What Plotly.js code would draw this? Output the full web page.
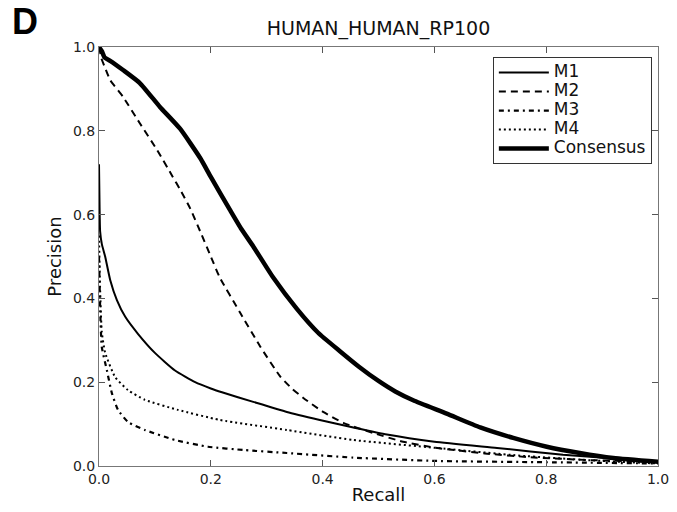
<!DOCTYPE html>
<html>
<head>
<meta charset="utf-8">
<script src="https://cdn.plot.ly/plotly-3.0.1.min.js"></script>
<style>html,body{margin:0;padding:0;background:#fff;}#chart{width:677px;height:512px;}</style>
</head>
<body>
<div id="chart"></div>
<script>
const seriesNames = ["M1", "M2", "M3", "M4", "Consensus"];

const m1X = [0, 0.001, 0.002, 0.005, 0.011, 0.02, 0.032, 0.047, 0.07, 0.1, 0.136, 0.172, 0.2, 0.22, 0.276, 0.336, 0.395, 0.455, 0.515, 0.6, 0.712, 0.83, 1.0];
const m1Y = [0.72, 0.62, 0.56, 0.53, 0.5, 0.444, 0.396, 0.356, 0.315, 0.27, 0.228, 0.2, 0.185, 0.176, 0.153, 0.129, 0.11, 0.092, 0.075, 0.058, 0.043, 0.027, 0.01];

const m2X = [0, 0.005, 0.011, 0.02, 0.043, 0.073, 0.104, 0.132, 0.145, 0.163, 0.181, 0.2, 0.216, 0.252, 0.288, 0.324, 0.345, 0.365, 0.401, 0.437, 0.49, 0.544, 0.605, 0.69, 0.771, 0.88, 1.0];
const m2Y = [1.0, 0.97, 0.95, 0.921, 0.881, 0.818, 0.754, 0.69, 0.66, 0.615, 0.56, 0.5, 0.45, 0.367, 0.286, 0.214, 0.185, 0.163, 0.129, 0.103, 0.079, 0.058, 0.043, 0.03, 0.021, 0.014, 0.01];

const m3X = [0, 0.002, 0.005, 0.014, 0.023, 0.034, 0.052, 0.082, 0.136, 0.195, 0.26, 0.336, 0.455, 0.605, 0.8, 1.0];
const m3Y = [0.5, 0.38, 0.284, 0.229, 0.174, 0.134, 0.105, 0.086, 0.062, 0.046, 0.038, 0.031, 0.02, 0.012, 0.009, 0.006];

const m4X = [0, 0.002, 0.005, 0.011, 0.029, 0.052, 0.082, 0.141, 0.216, 0.336, 0.455, 0.605, 0.75, 0.9, 1.0];
const m4Y = [0.55, 0.42, 0.32, 0.27, 0.212, 0.181, 0.158, 0.134, 0.11, 0.086, 0.062, 0.043, 0.025, 0.012, 0.006];

const consX = [0, 0.005, 0.01, 0.02, 0.043, 0.073, 0.109, 0.145, 0.181, 0.2, 0.234, 0.255, 0.276, 0.311, 0.354, 0.392, 0.431, 0.465, 0.5, 0.53, 0.562, 0.622, 0.682, 0.741, 0.801, 0.86, 0.92, 1.0];
const consY = [1.0, 0.99, 0.975, 0.967, 0.945, 0.914, 0.857, 0.805, 0.735, 0.69, 0.612, 0.565, 0.524, 0.451, 0.375, 0.318, 0.274, 0.237, 0.203, 0.178, 0.157, 0.125, 0.092, 0.067, 0.046, 0.031, 0.019, 0.01];

const tickVals = [0, 0.2, 0.4, 0.6, 0.8, 1.0];
const tickText = ["0.0", "0.2", "0.4", "0.6", "0.8", "1.0"];

const xs = [m1X, m2X, m3X, m4X, consX];
const ys = [m1Y, m2Y, m3Y, m4Y, consY];
const dashes = ["solid", "7px,5px", "5px,4px,2px,4px", "2px,3px", "solid"];
const widths = [2, 2, 2.2, 2, 4.5];

const traces = seriesNames.map((n, i) => ({
  type: "scatter", mode: "lines",
  name: '<span style="font-size:17px">' + n + '</span>',
  x: xs[i], y: ys[i],
  line: {color: "#000", width: widths[i], dash: dashes[i], shape: "spline", smoothing: 0.5}
}));

const axisCommon = {
  range: [0, 1], tickvals: tickVals, ticktext: tickText,
  ticks: "inside", ticklen: 6, tickwidth: 1, tickcolor: "#555",
  showline: true, linecolor: "#777", linewidth: 1, mirror: "ticks",
  showgrid: false, zeroline: false,
  tickfont: {family: "DejaVu Sans", size: 14, color: "#222"}
};

const layout = {
  width: 677, height: 512,
  margin: {l: 99, r: 19, t: 47, b: 46},
  paper_bgcolor: "#fff", plot_bgcolor: "#fff",
  font: {family: "DejaVu Sans", color: "#111"},
  title: {text: "HUMAN_HUMAN_RP100", x: 0.5, xref: "paper", y: 1 - 28/512, yref: "container", yanchor: "middle",
          font: {family: "DejaVu Sans", size: 19, color: "#111"}},
  xaxis: Object.assign({}, axisCommon, {title: {text: "Recall", font: {family: "DejaVu Sans", size: 18, color: "#111"}, standoff: 2}}),
  yaxis: Object.assign({}, axisCommon, {title: {text: "Precision", font: {family: "DejaVu Sans", size: 18, color: "#111"}, standoff: 6}}),
  showlegend: true,
  legend: {x: 0.989, y: 0.976, xanchor: "right", yanchor: "top",
           bordercolor: "#333", borderwidth: 1, bgcolor: "#fff",
           font: {family: "DejaVu Sans", size: 11, color: "#111"},
           tracegroupgap: 0, itemwidth: 50},
  annotations: [{text: "<b>D</b>", xref: "paper", yref: "paper", x: -0.132, y: (466-22)/419,
                 xanchor: "center", yanchor: "middle", showarrow: false,
                 font: {family: "Liberation Sans", size: 36, color: "#000"}}]
};

Plotly.newPlot("chart", traces, layout, {displayModeBar: false, staticPlot: true});
</script>
</body>
</html>
